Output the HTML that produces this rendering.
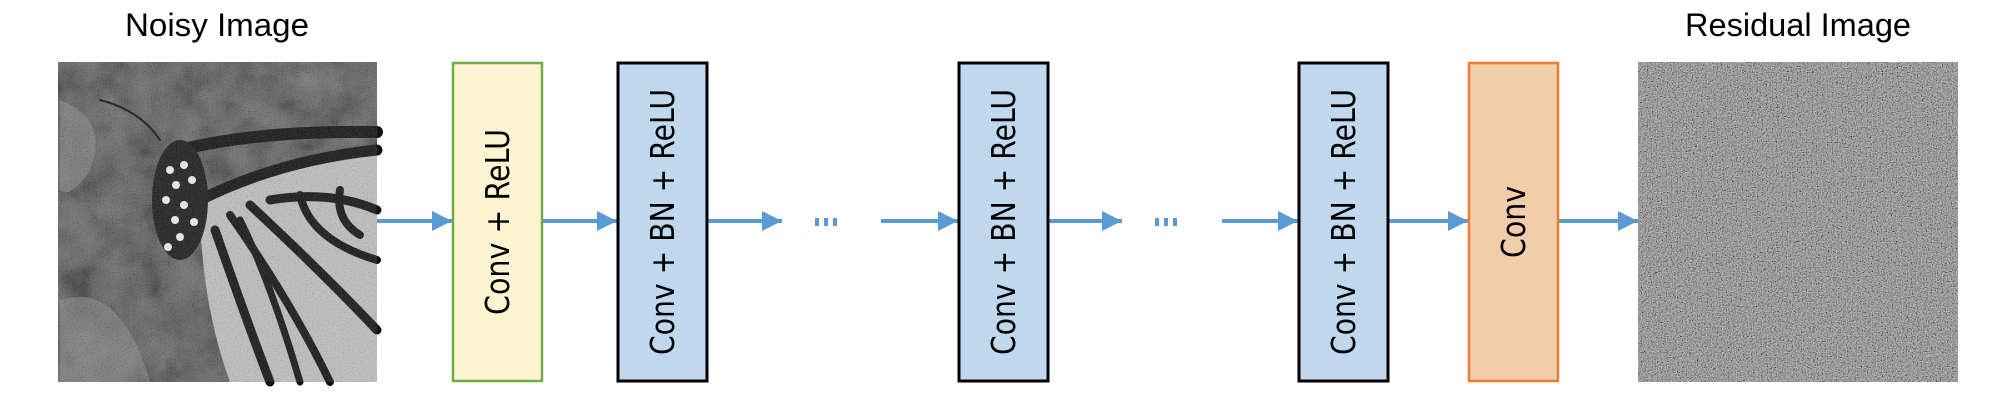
<!DOCTYPE html>
<html><head><meta charset="utf-8"><style>
html,body{margin:0;padding:0;background:#fff;}
svg{display:block;}
</style></head><body>
<svg width="2012" height="408" viewBox="0 0 2012 408" xmlns="http://www.w3.org/2000/svg">
<defs>
<filter id="n1" x="0" y="0" width="100%" height="100%">
<feTurbulence type="fractalNoise" baseFrequency="0.8" numOctaves="2" seed="3"/>
<feColorMatrix type="matrix" values="0.33 0.33 0.33 0 0  0.33 0.33 0.33 0 0  0.33 0.33 0.33 0 0  0 0 0 0 1"/>
<feComponentTransfer><feFuncR type="linear" slope="3" intercept="-1.0"/><feFuncG type="linear" slope="3" intercept="-1.0"/><feFuncB type="linear" slope="3" intercept="-1.0"/></feComponentTransfer>
</filter>
<filter id="n2" x="0" y="0" width="100%" height="100%">
<feTurbulence type="fractalNoise" baseFrequency="0.03" numOctaves="3" seed="7"/>
<feColorMatrix type="matrix" values="0.3 0.3 0.3 0 0  0.3 0.3 0.3 0 0  0.3 0.3 0.3 0 0  0 0 0 0 1"/>
<feComponentTransfer><feFuncR type="linear" slope="2" intercept="-0.5"/><feFuncG type="linear" slope="2" intercept="-0.5"/><feFuncB type="linear" slope="2" intercept="-0.5"/></feComponentTransfer>
</filter>
<marker id="ah" markerWidth="20" markerHeight="20" refX="20" refY="10" orient="auto" markerUnits="userSpaceOnUse">
<path d="M0,0 L20,10 L0,20 Z" fill="#5b9bd5"/>
</marker>
</defs>

<text x="217" y="36" font-family="Liberation Sans, sans-serif" font-size="32" text-anchor="middle" textLength="184" lengthAdjust="spacingAndGlyphs">Noisy Image</text>
<text x="1798" y="36" font-family="Liberation Sans, sans-serif" font-size="32" text-anchor="middle" textLength="226" lengthAdjust="spacingAndGlyphs">Residual Image</text>

<!-- Noisy image -->
<g>
<rect x="58" y="62" width="319" height="320" fill="#3a3a3a"/>
<rect x="58" y="62" width="319" height="320" filter="url(#n2)" opacity="0.35"/>
<path d="M200,200 Q280,160 377,150 L377,382 L230,382 Q200,300 200,200 Z" fill="#bdbdbd"/>
<path d="M60,300 Q120,280 150,382 L60,382 Z" fill="#888" opacity="0.6"/>
<path d="M60,100 Q110,120 90,170 Q70,200 60,190 Z" fill="#888" opacity="0.6"/>
<g fill="none" stroke="#111" stroke-linecap="round">
<path d="M180,150 Q260,130 377,132" stroke-width="12"/>
<path d="M200,200 Q280,160 377,150" stroke-width="11"/>
<path d="M215,230 Q250,330 270,382" stroke-width="9"/>
<path d="M230,215 Q290,300 330,382" stroke-width="8"/>
<path d="M250,205 Q320,270 377,330" stroke-width="9"/>
<path d="M240,220 Q270,280 300,382" stroke-width="7"/>
<path d="M270,200 Q330,190 377,210" stroke-width="9"/>
<path d="M300,195 Q310,240 377,260" stroke-width="8"/>
<path d="M340,190 Q335,220 360,235" stroke-width="8"/>
<path d="M100,100 Q140,110 160,140" stroke-width="2"/>
</g>
<ellipse cx="180" cy="200" rx="28" ry="60" fill="#1a1a1a"/>
<g fill="#eee">
<circle cx="170" cy="170" r="4"/><circle cx="184" cy="165" r="4"/><circle cx="176" cy="185" r="4"/><circle cx="192" cy="180" r="4"/>
<circle cx="166" cy="200" r="4"/><circle cx="184" cy="205" r="4"/><circle cx="175" cy="220" r="4"/><circle cx="194" cy="222" r="4"/>
<circle cx="180" cy="237" r="4"/><circle cx="168" cy="247" r="4"/>
</g>
<rect x="58" y="62" width="319" height="320" filter="url(#n1)" opacity="0.15"/>
</g>

<!-- Residual image -->
<rect x="1638" y="62" width="320" height="320" fill="#707070"/>
<rect x="1638" y="62" width="320" height="320" filter="url(#n1)" opacity="0.6"/>

<!-- Arrows -->
<g stroke="#5b9bd5" stroke-width="4" marker-end="url(#ah)">
<line x1="377" y1="221" x2="452" y2="221"/>
<line x1="542" y1="221" x2="617" y2="221"/>
<line x1="707" y1="221" x2="782" y2="221"/>
<line x1="881" y1="221" x2="958" y2="221"/>
<line x1="1048" y1="221" x2="1122" y2="221"/>
<line x1="1222" y1="221" x2="1298" y2="221"/>
<line x1="1389" y1="221" x2="1468" y2="221"/>
<line x1="1558" y1="221" x2="1638" y2="221"/>
</g>
<g fill="#5b9bd5">
<rect x="815" y="218" width="4" height="8"/><rect x="824" y="218" width="4" height="8"/><rect x="833" y="218" width="4" height="8"/>
<rect x="1155" y="218" width="4" height="8"/><rect x="1164" y="218" width="4" height="8"/><rect x="1173" y="218" width="4" height="8"/>
</g>

<!-- Boxes -->
<rect x="453" y="63" width="89" height="318" fill="#fdf3d0" stroke="#70ad47" stroke-width="2.5"/>
<rect x="618" y="63" width="89" height="318" fill="#c0d8ee" stroke="#000" stroke-width="3"/>
<rect x="959" y="63" width="89" height="318" fill="#c0d8ee" stroke="#000" stroke-width="3"/>
<rect x="1299" y="63" width="89" height="318" fill="#c0d8ee" stroke="#000" stroke-width="3"/>
<rect x="1469" y="63" width="89" height="318" fill="#f1cdaa" stroke="#ed7d31" stroke-width="2.5"/>

<g font-family="DejaVu Sans, sans-serif" font-size="33" fill="#000" text-anchor="middle">
<text transform="translate(509,222) rotate(-90)" textLength="186" lengthAdjust="spacingAndGlyphs">Conv + ReLU</text>
<text transform="translate(674,222) rotate(-90)" textLength="266" lengthAdjust="spacingAndGlyphs">Conv + BN + ReLU</text>
<text transform="translate(1015,222) rotate(-90)" textLength="266" lengthAdjust="spacingAndGlyphs">Conv + BN + ReLU</text>
<text transform="translate(1355,222) rotate(-90)" textLength="266" lengthAdjust="spacingAndGlyphs">Conv + BN + ReLU</text>
<text transform="translate(1525,222) rotate(-90)" textLength="72" lengthAdjust="spacingAndGlyphs">Conv</text>
</g>
</svg>
</body></html>
